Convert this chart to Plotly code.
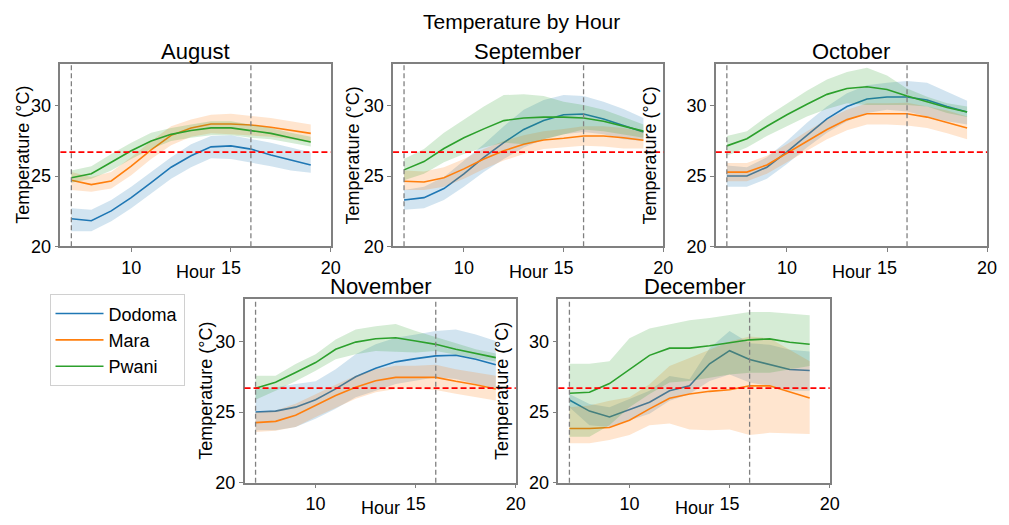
import plotly.graph_objects as go

W, H = 1009, 525

hours = list(range(7, 20))
months = ["August", "September", "October", "November", "December"]
regions = ["Dodoma", "Mara", "Pwani"]
x_ticks = [10, 15, 20]
y_ticks = [20, 25, 30]
ref_temp = 26.7
ref_hours = [7, 16]

# ---- August ----
aug_dodoma = [21.96, 21.82, 22.52, 23.46, 24.53, 25.63, 26.45, 27.08, 27.15, 26.92, 26.5, 26.14, 25.79]
aug_dodoma_hi = [22.71, 22.6, 23.29, 24.23, 25.28, 26.33, 27.27, 27.85, 27.9, 27.66, 27.38, 27.03, 26.68]
aug_dodoma_lo = [21.07, 21.07, 21.78, 22.71, 23.76, 24.81, 25.63, 26.26, 26.21, 25.98, 25.7, 25.4, 25.23]
aug_mara = [24.7, 24.39, 24.65, 25.7, 26.87, 27.9, 28.43, 28.71, 28.71, 28.64, 28.48, 28.27, 28.04]
aug_mara_hi = [25.28, 24.93, 25.28, 26.33, 27.5, 28.55, 29.02, 29.37, 29.44, 29.3, 29.14, 28.9, 28.67]
aug_mara_lo = [24.0, 23.88, 24.11, 25.05, 26.21, 27.2, 27.8, 28.04, 27.97, 27.9, 27.8, 27.62, 27.38]
aug_pwani = [24.88, 25.16, 25.98, 26.8, 27.5, 27.97, 28.25, 28.43, 28.43, 28.25, 28.04, 27.73, 27.43]
aug_pwani_hi = [25.4, 25.7, 26.57, 27.38, 28.08, 28.43, 28.67, 28.9, 28.9, 28.67, 28.43, 28.08, 27.8]
aug_pwani_lo = [24.53, 24.81, 25.4, 26.21, 26.92, 27.5, 27.73, 27.9, 27.9, 27.73, 27.62, 27.34, 27.1]

# ---- September ----
sep_dodoma = [23.29, 23.46, 24.11, 25.16, 26.33, 27.38, 28.32, 28.95, 29.37, 29.42, 29.07, 28.6, 28.13]
sep_dodoma_hi = [24.0, 24.23, 24.93, 26.1, 27.27, 28.55, 29.72, 30.42, 30.77, 30.7, 30.3, 29.77, 29.14]
sep_dodoma_lo = [22.59, 22.71, 23.29, 24.23, 25.28, 26.21, 27.03, 27.62, 27.97, 28.13, 27.97, 27.62, 27.5]
sep_mara = [24.63, 24.58, 24.88, 25.51, 26.21, 26.8, 27.27, 27.57, 27.69, 27.85, 27.85, 27.73, 27.55]
sep_mara_hi = [25.4, 25.33, 25.63, 26.21, 26.92, 27.5, 27.9, 28.2, 28.36, 28.55, 28.55, 28.43, 28.13]
sep_mara_lo = [24.0, 24.0, 24.23, 24.81, 25.51, 26.1, 26.57, 26.92, 27.03, 27.15, 27.1, 26.96, 26.96]
sep_pwani = [25.44, 26.03, 26.96, 27.73, 28.36, 28.95, 29.14, 29.2, 29.2, 29.14, 28.9, 28.55, 28.2]
sep_pwani_hi = [26.21, 26.92, 28.08, 29.02, 29.95, 30.77, 30.82, 30.7, 30.3, 30.07, 29.72, 29.21, 28.67]
sep_pwani_lo = [24.7, 25.16, 25.98, 26.57, 27.03, 27.38, 27.27, 27.62, 27.97, 28.32, 28.2, 27.97, 27.73]

# ---- October ----
oct_dodoma = [25.0, 25.0, 25.63, 26.73, 27.9, 29.07, 29.95, 30.49, 30.63, 30.63, 30.42, 29.95, 29.56]
oct_dodoma_hi = [25.75, 25.63, 26.33, 27.5, 28.79, 29.95, 30.89, 31.47, 31.64, 31.78, 31.64, 31.0, 30.37]
oct_dodoma_lo = [24.23, 24.23, 24.81, 25.86, 27.03, 28.08, 28.9, 29.49, 29.72, 29.6, 29.25, 28.9, 28.67]
oct_mara = [25.28, 25.28, 25.79, 26.64, 27.5, 28.32, 29.02, 29.44, 29.44, 29.44, 29.2, 28.83, 28.43]
oct_mara_hi = [25.93, 25.93, 26.45, 27.27, 28.2, 29.02, 29.72, 30.19, 30.19, 30.23, 29.95, 29.67, 29.25]
oct_mara_lo = [24.63, 24.63, 25.16, 25.98, 26.8, 27.62, 28.27, 28.67, 28.67, 28.6, 28.43, 28.04, 27.62]
oct_pwani = [27.15, 27.66, 28.55, 29.37, 30.12, 30.82, 31.24, 31.36, 31.17, 30.7, 30.3, 29.88, 29.56]
oct_pwani_hi = [27.85, 28.2, 29.25, 30.19, 31.07, 31.87, 32.41, 32.71, 32.17, 31.24, 30.65, 30.19, 29.95]
oct_pwani_lo = [26.45, 27.03, 27.85, 28.55, 29.25, 29.77, 30.19, 30.07, 30.07, 30.07, 29.95, 29.49, 29.21]

# ---- November ----
nov_dodoma = [25.0, 25.07, 25.35, 25.87, 26.64, 27.5, 28.11, 28.56, 28.79, 28.98, 29.03, 28.75, 28.35]
nov_dodoma_hi = [26.64, 26.76, 26.99, 27.18, 28.04, 29.1, 29.8, 30.27, 30.5, 30.74, 30.85, 30.5, 30.04]
nov_dodoma_lo = [23.71, 23.71, 23.95, 24.53, 25.23, 26.05, 26.52, 26.99, 27.22, 27.46, 27.34, 26.99, 26.64]
nov_mara = [24.25, 24.34, 24.77, 25.47, 26.17, 26.76, 27.22, 27.46, 27.46, 27.46, 27.18, 26.94, 26.64]
nov_mara_hi = [25.0, 25.12, 25.59, 26.29, 26.94, 27.58, 28.04, 28.28, 28.28, 28.35, 28.04, 27.81, 27.58]
nov_mara_lo = [23.59, 23.67, 23.95, 24.65, 25.3, 25.94, 26.41, 26.64, 26.64, 26.57, 26.29, 26.05, 25.82]
nov_pwani = [26.69, 27.11, 27.81, 28.51, 29.45, 29.96, 30.2, 30.27, 30.04, 29.8, 29.45, 29.15, 28.86]
nov_pwani_hi = [27.58, 27.58, 28.4, 29.1, 30.15, 30.85, 31.09, 31.25, 30.74, 30.32, 29.85, 29.45, 29.15]
nov_pwani_lo = [25.87, 26.52, 27.18, 27.93, 28.75, 29.1, 29.33, 29.29, 29.22, 29.33, 29.05, 28.82, 28.58]

# ---- December ----
dec_dodoma = [25.86, 25.07, 24.65, 25.16, 25.7, 26.51, 26.86, 28.42, 29.35, 28.72, 28.37, 28.02, 27.95]
dec_dodoma_hi = [26.28, 25.58, 25.35, 25.93, 26.51, 27.56, 27.33, 29.53, 30.74, 29.88, 29.77, 29.42, 29.3]
dec_dodoma_lo = [25.35, 24.07, 23.95, 24.42, 24.88, 25.81, 26.28, 27.21, 27.67, 27.09, 26.86, 26.51, 26.51]
dec_mara = [23.84, 23.84, 23.91, 24.42, 25.23, 25.98, 26.28, 26.47, 26.58, 26.86, 26.86, 26.44, 26.0]
dec_mara_hi = [25.35, 25.47, 25.81, 26.05, 26.98, 28.26, 28.84, 29.42, 30.0, 30.35, 30.23, 29.42, 28.6]
dec_mara_lo = [22.79, 22.79, 23.02, 23.37, 24.07, 24.19, 23.77, 23.72, 23.77, 23.37, 23.53, 23.49, 23.44]
dec_pwani = [26.33, 26.4, 27.02, 28.02, 29.02, 29.53, 29.53, 29.7, 29.93, 30.12, 30.19, 29.95, 29.81]
dec_pwani_hi = [28.42, 28.42, 28.6, 30.23, 30.93, 31.21, 31.51, 31.67, 31.86, 32.09, 32.09, 31.98, 31.86]
dec_pwani_lo = [23.26, 23.26, 24.07, 25.35, 26.28, 27.09, 27.21, 27.44, 27.67, 27.79, 27.79, 28.02, 28.26]

series = {
    "August": [(aug_dodoma, aug_dodoma_lo, aug_dodoma_hi), (aug_mara, aug_mara_lo, aug_mara_hi), (aug_pwani, aug_pwani_lo, aug_pwani_hi)],
    "September": [(sep_dodoma, sep_dodoma_lo, sep_dodoma_hi), (sep_mara, sep_mara_lo, sep_mara_hi), (sep_pwani, sep_pwani_lo, sep_pwani_hi)],
    "October": [(oct_dodoma, oct_dodoma_lo, oct_dodoma_hi), (oct_mara, oct_mara_lo, oct_mara_hi), (oct_pwani, oct_pwani_lo, oct_pwani_hi)],
    "November": [(nov_dodoma, nov_dodoma_lo, nov_dodoma_hi), (nov_mara, nov_mara_lo, nov_mara_hi), (nov_pwani, nov_pwani_lo, nov_pwani_hi)],
    "December": [(dec_dodoma, dec_dodoma_lo, dec_dodoma_hi), (dec_mara, dec_mara_lo, dec_mara_hi), (dec_pwani, dec_pwani_lo, dec_pwani_hi)],
}

line_colors = ["#1f77b4", "#ff7f0e", "#2ca02c"]
fill_colors = ["rgba(31,119,180,0.2)", "rgba(255,127,14,0.2)", "rgba(44,160,44,0.2)"]

# axes boxes in pixels: (left, right, top, bottom)
boxes = [
    (61, 334, 65, 251),
    (397, 670, 65, 251),
    (723, 997, 65, 251),
    (247, 521, 305, 492),
    (564, 838, 305, 492),
]
ylabel_x = [23, 357, 656, 208, 507]

FONT = "Arial, Liberation Sans, sans-serif"

def px(x):
    return x / W

def py(y):
    return 1 - y / H

fig = go.Figure()
layout = dict(
    width=W, height=H, autosize=False,
    margin=dict(l=0, r=0, t=0, b=0, pad=0),
    paper_bgcolor="white", plot_bgcolor="white",
    font=dict(family=FONT, size=18, color="black"),
    showlegend=True,
    legend=dict(
        x=px(50), y=py(300), xanchor="left", yanchor="top",
        bordercolor="#d0d0d0", borderwidth=1, bgcolor="white",
        font=dict(size=18, family=FONT), tracegroupgap=0, itemwidth=48,
    ),
)
annotations = []
shapes = []

for i, month in enumerate(months):
    k = "" if i == 0 else str(i + 1)
    xa, ya = "x" + k, "y" + k
    l, r, t, b = boxes[i]
    axstyle = dict(
        showgrid=False, zeroline=False, showline=True, mirror=True,
        linecolor="#808080", linewidth=1.5, ticks="outside", ticklen=4,
        tickwidth=1.3, tickcolor="#808080", tickfont=dict(size=18, color="black", family=FONT),
    )
    layout["xaxis" + k] = dict(domain=[px(l), px(r)], anchor=ya, range=[6.45, 20],
                               tickvals=x_ticks, **axstyle)
    layout["yaxis" + k] = dict(domain=[py(b), py(t)], anchor=xa, range=[20, 33],
                               tickvals=y_ticks, **axstyle)
    for j, reg in enumerate(regions):
        mean, lo, hi = series[month][j]
        fig.add_trace(go.Scatter(
            x=hours + hours[::-1], y=hi + lo[::-1], fill="toself",
            fillcolor=fill_colors[j], line=dict(width=0), mode="lines",
            hoverinfo="skip", showlegend=False, xaxis=xa, yaxis=ya))
        fig.add_trace(go.Scatter(
            x=hours, y=mean, mode="lines", name=reg,
            line=dict(color=line_colors[j], width=1.6),
            showlegend=(i == 0), xaxis=xa, yaxis=ya))
    # reference lines
    shapes.append(dict(type="line", xref=xa + " domain", yref=ya, x0=0, x1=1,
                       y0=ref_temp, y1=ref_temp,
                       line=dict(color="red", width=1.8, dash="6px,3px")))
    for hv in ref_hours:
        shapes.append(dict(type="line", xref=xa, yref=ya + " domain", x0=hv, x1=hv,
                           y0=0, y1=1, line=dict(color="#808080", width=1.3, dash="5px,3px")))
    # subplot title
    annotations.append(dict(text=month, x=px((l + r) / 2), y=py(t - 13), xref="paper", yref="paper",
                            xanchor="center", yanchor="middle", showarrow=False,
                            font=dict(size=22, family=FONT, color="black")))
    # x label
    annotations.append(dict(text="Hour", x=px((l + r) / 2), y=py(b + 26), xref="paper", yref="paper",
                            xanchor="center", yanchor="middle", showarrow=False,
                            font=dict(size=18, family=FONT, color="black")))
    # y label
    annotations.append(dict(text="Temperature (°C)", x=px(ylabel_x[i]), y=py((t + b) / 2),
                            xref="paper", yref="paper", xanchor="center", yanchor="middle",
                            textangle=-90, showarrow=False,
                            font=dict(size=18, family=FONT, color="black")))

annotations.append(dict(text="Temperature by Hour", x=px(527), y=py(22), xref="paper", yref="paper",
                        xanchor="center", yanchor="middle", showarrow=False,
                        font=dict(size=21, family=FONT, color="black")))

layout["annotations"] = annotations
layout["shapes"] = shapes
fig.update_layout(**layout)
fig.write_html("out.html", config={"displayModeBar": False})
